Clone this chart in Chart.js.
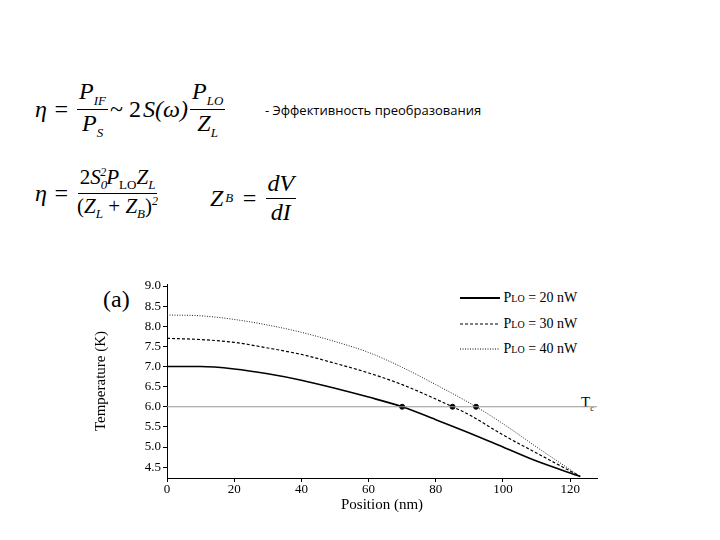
<!DOCTYPE html>
<html><head><meta charset="utf-8">
<script src="https://cdn.jsdelivr.net/npm/chart.js@4"></script>
<style>
body{margin:0;width:720px;height:540px;background:#fff;position:relative;overflow:hidden;font-family:"Liberation Serif",serif}
.f{position:absolute;font-style:italic;font-size:24px;display:flex;align-items:center;gap:2px;white-space:nowrap}
.fr{display:inline-flex;flex-direction:column;align-items:center;line-height:1.15}
.fr .n{border-bottom:1px solid #000;padding:0 2px}
.up{font-style:normal}
sub{font-size:13px}
#cw{position:absolute;left:90px;top:270px;width:520px;height:250px}
.lg{position:absolute;font-size:14px;font-family:"Liberation Serif",serif;display:flex;align-items:center}
</style></head><body>
<div class="f" style="left:35px;top:78px">η&nbsp;=&nbsp;<span class="fr"><span class="n">P<sub>IF</sub></span><span>P<sub>S</sub></span></span><span class="up">~ 2</span>S(ω)<span class="fr"><span class="n">P<sub>LO</sub></span><span>Z<sub>L</sub></span></span></div>
<div style="position:absolute;left:265px;top:101px;font-family:'Open Sans',sans-serif;font-size:13px">- Эффективность преобразования</div>
<div class="f" style="left:35px;top:165px">η&nbsp;=&nbsp;<span class="fr" style="font-size:21px"><span class="n"><span class="up">2</span>S<sub>0</sub><sup style="font-size:12px;margin-left:-7px">2</sup>P<sub class="up">LO</sub>Z<sub>L</sub></span><span><span class="up">(</span>Z<sub>L</sub> <span class="up">+</span> Z<sub>B</sub><span class="up">)</span><sup style="font-size:12px">2</sup></span></span></div>
<div class="f" style="left:210px;top:170px">Z<sub>B</sub>&nbsp;=&nbsp;<span class="fr"><span class="n">dV</span><span>dI</span></span></div>
<div style="position:absolute;left:103px;top:286px;font-size:24px">(a)</div>
<div class="lg" style="left:460px;top:290px"><svg width="40" height="6"><line x1="0" y1="3" x2="40" y2="3" stroke="#000" stroke-width="2"/></svg>&nbsp;P<sub style="font-size:10px">LO</sub>&nbsp;= 20 nW</div>
<div class="lg" style="left:460px;top:316px"><svg width="40" height="6"><line x1="0" y1="3" x2="40" y2="3" stroke="#000" stroke-width="1.2" stroke-dasharray="3,2"/></svg>&nbsp;P<sub style="font-size:10px">LO</sub>&nbsp;= 30 nW</div>
<div class="lg" style="left:460px;top:341px"><svg width="40" height="6"><line x1="0" y1="3" x2="40" y2="3" stroke="#000" stroke-width="1" stroke-dasharray="1,1.5"/></svg>&nbsp;P<sub style="font-size:10px">LO</sub>&nbsp;= 40 nW</div>
<div style="position:absolute;left:581px;top:394px;font-size:15px">T<sub style="font-size:8px">c</sub></div>
<div id="cw"><canvas id="c"></canvas></div>
<script>
const pos20=[0,10,20,30,40,50,60,70,80,90,100,110,123];
const t20=[7.0,7.0,6.94,6.82,6.66,6.46,6.24,6.0,5.68,5.35,5.0,4.65,4.27];
const pos30=[0,10,20,30,40,50,60,70,85,90,100,110,123];
const t30=[7.7,7.67,7.6,7.46,7.3,7.08,6.84,6.55,6.0,5.8,5.3,4.85,4.27];
const pos40=[0,10,20,30,40,50,60,70,80,92,100,110,123];
const t40=[8.28,8.26,8.17,8.03,7.85,7.62,7.35,6.98,6.55,6.0,5.58,5.0,4.27];
const crossX=[70,85,92];
const xTicks=[0,20,40,60,80,100,120];
const yTicks=[4.5,5,5.5,6,6.5,7,7.5,8,8.5,9];
const tc=6.0;
const xy=(a,b)=>a.map((v,i)=>({x:v,y:b[i]}));
const tf={family:'Liberation Serif',size:13};
const line={showLine:true,pointRadius:0,cubicInterpolationMode:'monotone'};
new Chart(document.getElementById('c'),{type:'scatter',data:{datasets:[
{data:[{x:0,y:tc},{x:128,y:tc}],showLine:true,borderColor:'#999',borderWidth:1,pointRadius:0},
{...line,data:xy(pos20,t20),borderColor:'#000',borderWidth:1.6},
{...line,data:xy(pos30,t30),borderColor:'#000',borderWidth:1.2,borderDash:[3,2]},
{...line,data:xy(pos40,t40),borderColor:'#222',borderWidth:1,borderDash:[1,1.5]},
{data:crossX.map(x=>({x,y:tc})),pointRadius:2.5,backgroundColor:'#000',borderColor:'#000'}
]},options:{responsive:true,maintainAspectRatio:false,animation:false,
layout:{padding:{left:0,right:13,top:14,bottom:0}},
plugins:{legend:{display:false},tooltip:{enabled:false}},
scales:{
x:{type:'linear',min:0,max:128,afterFit:s=>{s.height=42},afterBuildTicks:s=>{s.ticks=xTicks.map(v=>({value:v}))},
ticks:{color:'#000',font:tf,padding:0,autoSkip:false,maxRotation:0},
grid:{color:'rgba(0,0,0,0)',tickColor:'#000',tickLength:4},border:{color:'#000',width:1},
title:{display:true,text:'Position (nm)',color:'#000',font:{family:'Liberation Serif',size:15},padding:{top:0,bottom:6}}},
y:{type:'linear',min:4.23,max:9.05,afterFit:s=>{s.width=77},afterBuildTicks:s=>{s.ticks=yTicks.map(v=>({value:v}))},
ticks:{color:'#000',font:tf,padding:2,callback:v=>v.toFixed(1)},
grid:{color:'rgba(0,0,0,0)',tickColor:'#000',tickLength:4},border:{color:'#000',width:1},
title:{display:true,text:'Temperature (K)',color:'#000',font:{family:'Liberation Serif',size:15},padding:2}}
}}});
</script></body></html>
